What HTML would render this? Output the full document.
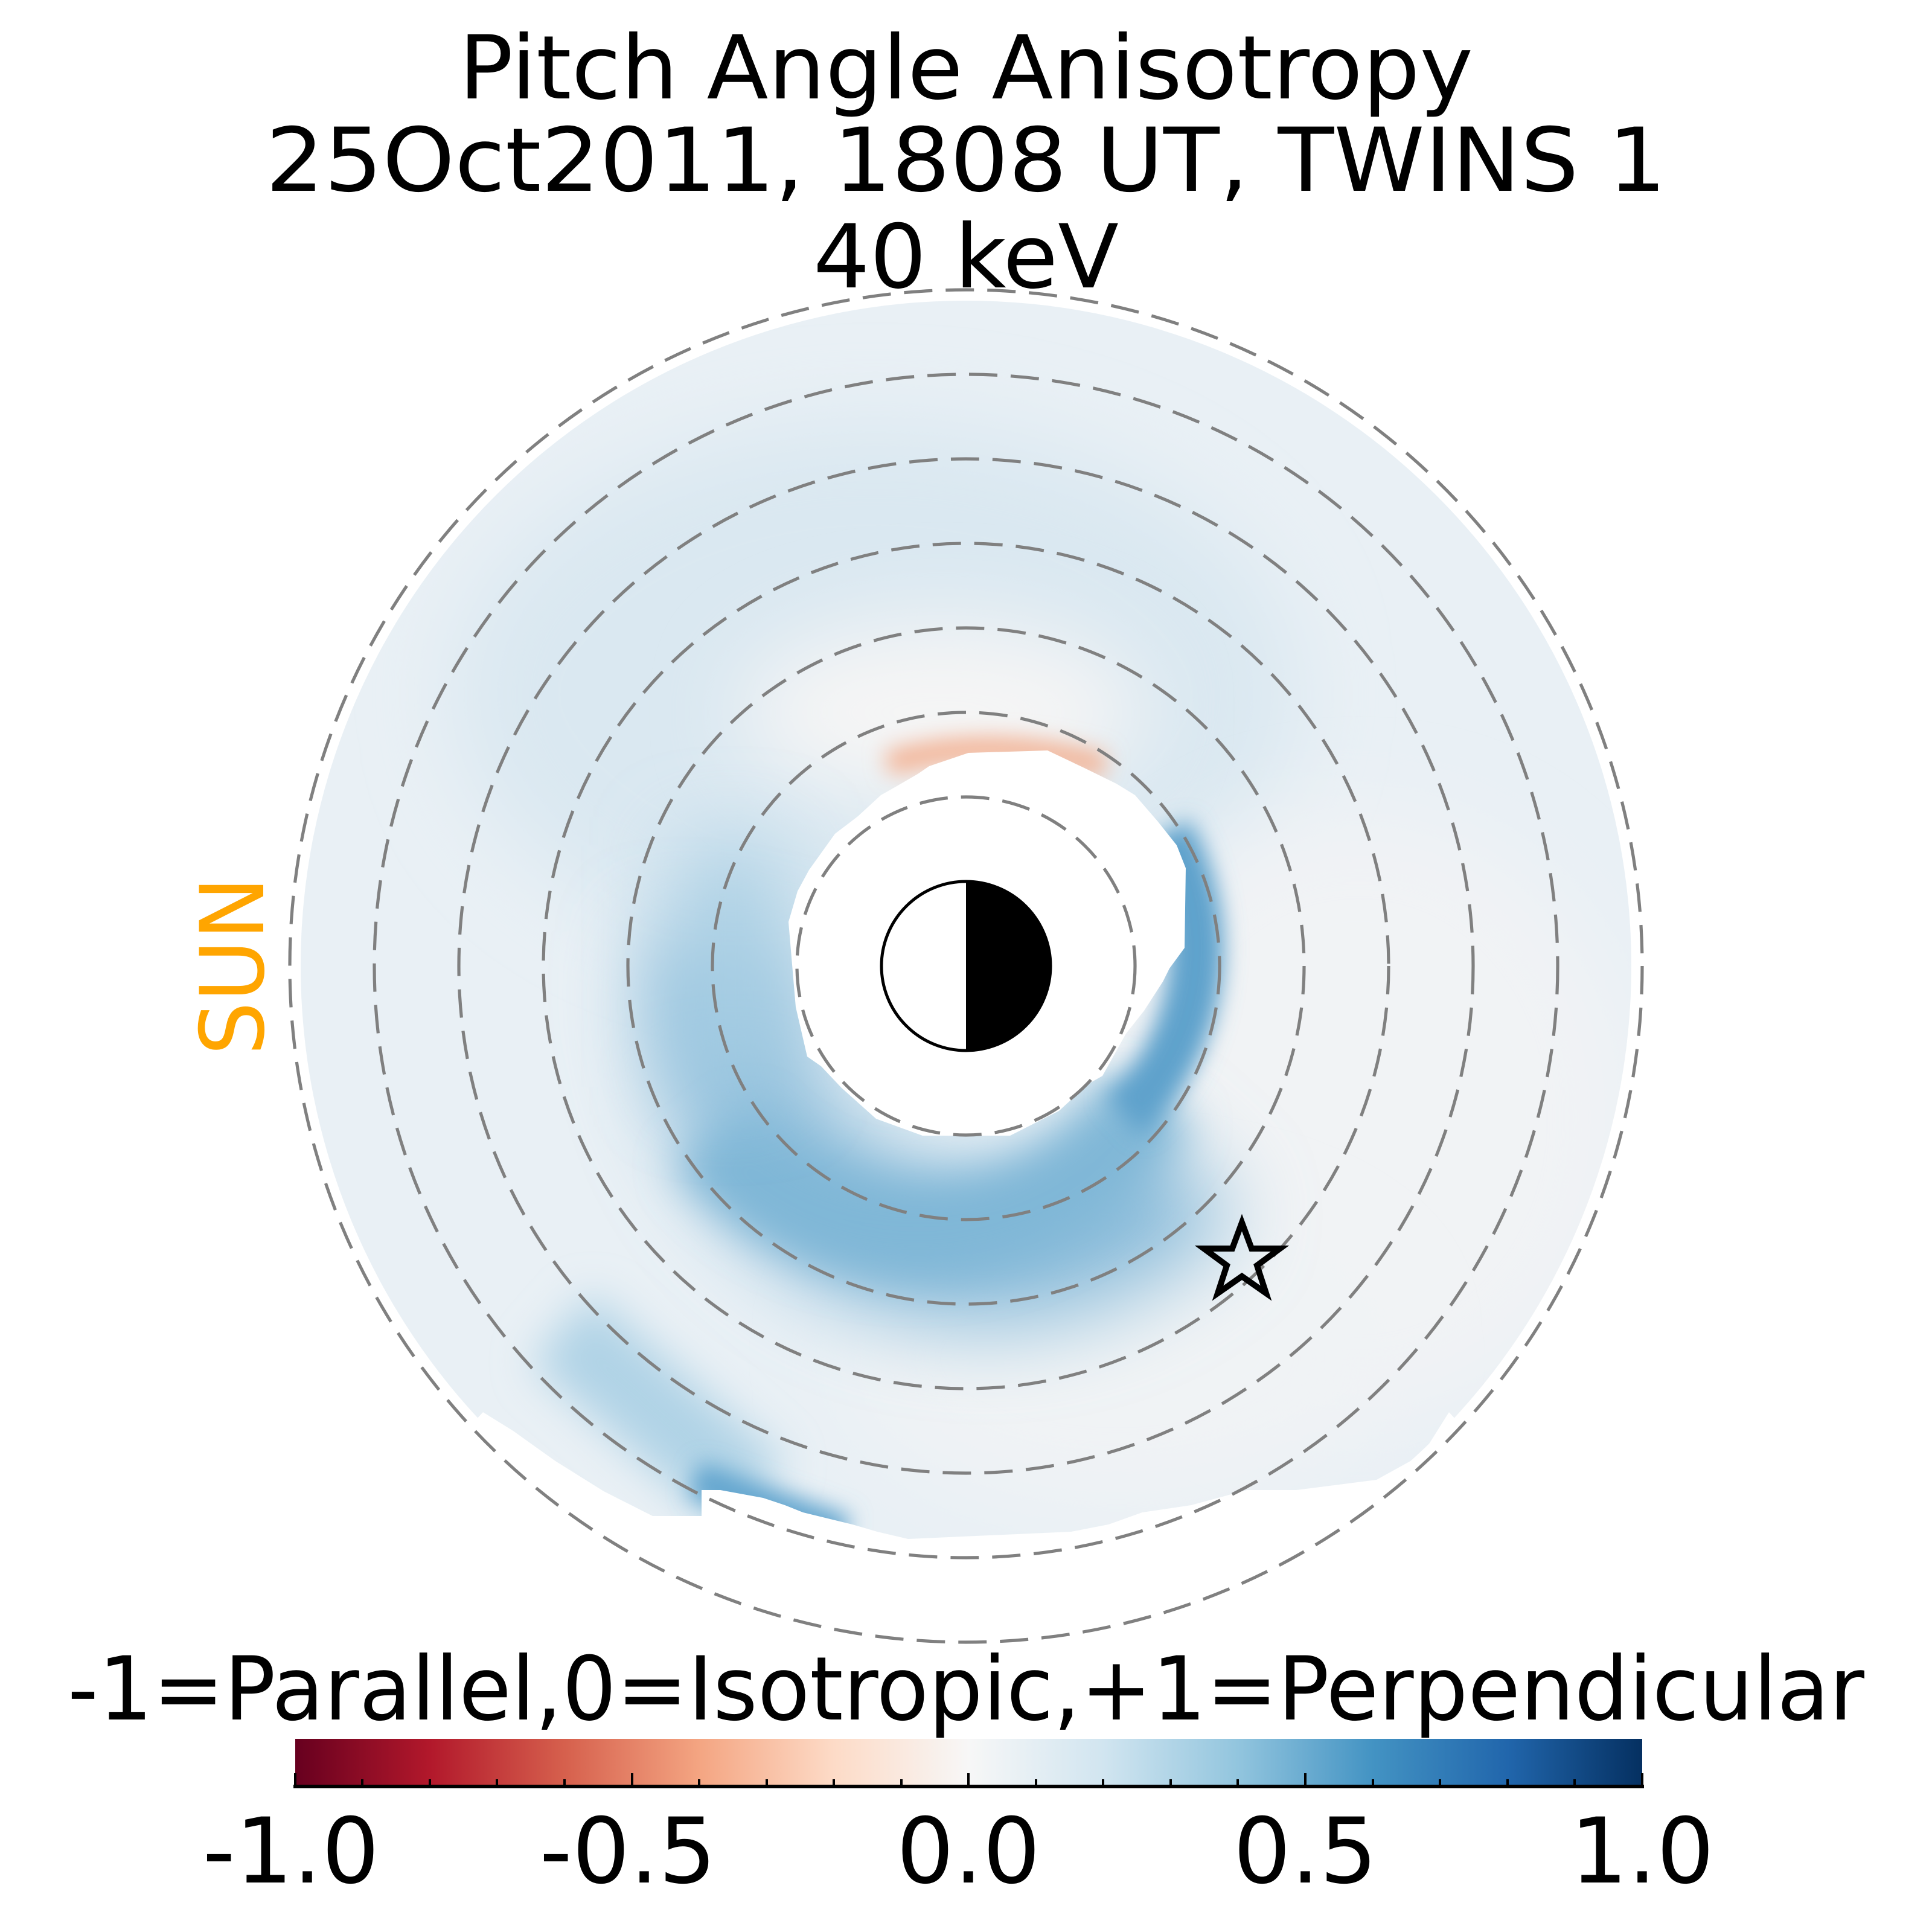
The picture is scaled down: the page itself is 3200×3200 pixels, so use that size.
<!DOCTYPE html>
<html><head><meta charset="utf-8"><style>
html,body{margin:0;padding:0;background:#fff;}
svg{display:block;}
text{font-family:"DejaVu Sans","Liberation Sans",sans-serif;}
</style></head><body>
<svg width="3200" height="3200" viewBox="0 0 3200 3200" xmlns="http://www.w3.org/2000/svg">
<defs>
<filter id="b1" filterUnits="userSpaceOnUse" x="0" y="0" width="3200" height="3200"><feGaussianBlur stdDeviation="70"/></filter>
<filter id="b2" filterUnits="userSpaceOnUse" x="0" y="0" width="3200" height="3200"><feGaussianBlur stdDeviation="35"/></filter>
<filter id="b3" filterUnits="userSpaceOnUse" x="0" y="0" width="3200" height="3200"><feGaussianBlur stdDeviation="18"/></filter>
<clipPath id="circ"><circle cx="1600" cy="1600" r="1102"/></clipPath>
<clipPath id="bot">
<path d="M0,0 H3200 V3200 L2400,2339 L2356,2409 L2280,2451 L2147,2468 L2116,2468 L2065,2468 L1973,2493 L1892,2505 L1836,2525 L1774,2537 L1504,2549 L1453,2537 L1412,2525 L1330,2505 L1300,2493 L1264,2481 L1193,2468 L1162,2468 L1162,2511 L1081,2511 L1000,2470 L920,2420 L850,2370 L800,2339 L0,3200 Z"/>
</clipPath>
<mask id="hole">
<rect width="3200" height="3200" fill="#fff"/>
<path d="M1604,1247 L1735,1243 L1796,1272 L1849,1298 L1880,1317 L1918,1361 L1949,1400 L1964,1438 L1962,1570 L1937,1604 L1926,1626 L1895,1674 L1865,1712 L1826,1782 L1803,1795 L1754,1840 L1673,1881 L1528,1881 L1451,1853 L1394,1802 L1360,1766 L1337,1750 L1318,1668 L1306,1527 L1321,1476 L1340,1441 L1383,1381 L1421,1352 L1459,1317 L1482,1304 L1520,1282 L1539,1269 Z" fill="#000"/>
</mask>
<linearGradient id="cb" x1="0" x2="1" y1="0" y2="0">
<stop offset="0" stop-color="#67001f"/>
<stop offset="0.1" stop-color="#b2182b"/>
<stop offset="0.2" stop-color="#d6604d"/>
<stop offset="0.3" stop-color="#f4a582"/>
<stop offset="0.4" stop-color="#fddbc7"/>
<stop offset="0.5" stop-color="#f7f7f7"/>
<stop offset="0.6" stop-color="#d1e5f0"/>
<stop offset="0.7" stop-color="#92c5de"/>
<stop offset="0.8" stop-color="#4393c3"/>
<stop offset="0.9" stop-color="#2166ac"/>
<stop offset="1" stop-color="#053061"/>
</linearGradient>
</defs>

<g clip-path="url(#circ)"><g clip-path="url(#bot)"><g mask="url(#hole)">
<rect x="400" y="400" width="2400" height="2400" fill="#e9f0f5"/>
<ellipse cx="1450" cy="1150" rx="700" ry="450" fill="#dae8f1" filter="url(#b1)"/>
<ellipse cx="2250" cy="1850" rx="450" ry="500" fill="#f1f3f5" filter="url(#b1)"/>
<ellipse cx="1850" cy="2250" rx="450" ry="250" fill="#f0f3f5" filter="url(#b1)"/>
<ellipse cx="1560" cy="1180" rx="330" ry="150" fill="#f5f5f5" filter="url(#b1)"/>
<path d="M1960,1930 A440,440 0 0,1 1200,1560" fill="none" stroke="#8abcda" stroke-width="240" filter="url(#b1)"/>
<path d="M1180,1880 A420,380 0 0,0 1900,1820" fill="none" stroke="#80b7d7" stroke-width="160" filter="url(#b2)"/>
<path d="M1210,1400 L1210,1800" fill="none" stroke="#a9cfe4" stroke-width="160" filter="url(#b1)"/>
<path d="M1930,1380 A380,380 0 0,1 1860,1850" fill="none" stroke="#5ea2cc" stroke-width="90" filter="url(#b3)"/>
<line x1="930" y1="2200" x2="1250" y2="2480" stroke="#b0d3e6" stroke-width="150" filter="url(#b2)"/>
<line x1="1150" y1="2450" x2="1400" y2="2540" stroke="#64a6cf" stroke-width="60" filter="url(#b3)"/>
<path d="M1470,1265 Q1640,1215 1830,1270" fill="none" stroke="#f3b294" stroke-width="40" filter="url(#b3)"/>
</g></g></g>

<g fill="none" stroke="#808080" stroke-width="5.2" stroke-dasharray="47 22">
<circle cx="1600" cy="1600" r="280"/>
<circle cx="1600" cy="1600" r="420"/>
<circle cx="1600" cy="1600" r="560"/>
<circle cx="1600" cy="1600" r="700"/>
<circle cx="1600" cy="1600" r="840"/>
<circle cx="1600" cy="1600" r="980"/>
<circle cx="1600" cy="1600" r="1120"/>
</g>

<circle cx="1600" cy="1600" r="140" fill="#fff" stroke="#000" stroke-width="5"/>
<path d="M1600,1460 A140,140 0 0,1 1600,1740 Z" fill="#000"/>

<polygon points="2057,2025 2073,2068 2120,2068 2082,2096 2097,2142 2057,2114 2017,2142 2032,2096 1994,2068 2041,2068" fill="none" stroke="#000" stroke-width="10" stroke-linejoin="miter"/>

<text x="1600" y="163" font-size="146" text-anchor="middle" textLength="1680" lengthAdjust="spacingAndGlyphs">Pitch Angle Anisotropy</text>
<text x="1600" y="316" font-size="146" text-anchor="middle" textLength="2320" lengthAdjust="spacingAndGlyphs">25Oct2011, 1808 UT,  TWINS 1</text>
<text x="1600" y="476" font-size="146" text-anchor="middle" textLength="506" lengthAdjust="spacingAndGlyphs">40 keV</text>

<text transform="translate(436,1600) rotate(-90)" font-size="146" fill="#ffa500" text-anchor="middle" textLength="296" lengthAdjust="spacingAndGlyphs">SUN</text>

<text x="1600" y="2848" font-size="146" text-anchor="middle" textLength="2976" lengthAdjust="spacingAndGlyphs">-1=Parallel,0=Isotropic,+1=Perpendicular</text>

<rect x="489" y="2880" width="2231" height="77" fill="url(#cb)"/>
<g stroke="#000" stroke-width="4">
<line x1="486" y1="2959" x2="2723" y2="2959" stroke-width="6"/>
<line x1="489" y1="2937" x2="489" y2="2957"/>
<line x1="1047" y1="2937" x2="1047" y2="2957"/>
<line x1="1604" y1="2937" x2="1604" y2="2957"/>
<line x1="2162" y1="2937" x2="2162" y2="2957"/>
<line x1="2720" y1="2937" x2="2720" y2="2957"/>
<path d="M600,2947V2957M712,2947V2957M823,2947V2957M935,2947V2957M1158,2947V2957M1270,2947V2957M1381,2947V2957M1493,2947V2957M1716,2947V2957M1827,2947V2957M1939,2947V2957M2050,2947V2957M2274,2947V2957M2385,2947V2957M2497,2947V2957M2608,2947V2957"/>
</g>
<g font-size="150" text-anchor="middle">
<text x="482" y="3118">-1.0</text>
<text x="1040" y="3118">-0.5</text>
<text x="1604" y="3118">0.0</text>
<text x="2162" y="3118">0.5</text>
<text x="2720" y="3118">1.0</text>
</g>
</svg>
</body></html>
